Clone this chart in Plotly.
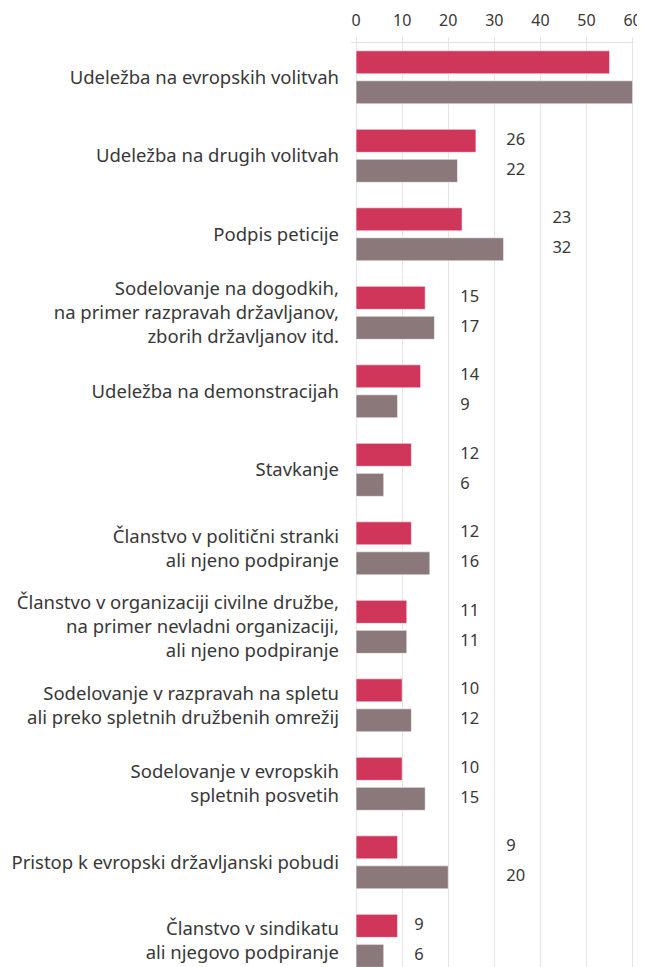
import plotly.graph_objects as go

categories = [
    "Udeležba na evropskih volitvah",
    "Udeležba na drugih volitvah",
    "Podpis peticije",
    "Sodelovanje na dogodkih,<br>na primer razpravah državljanov,<br>zborih državljanov itd.",
    "Udeležba na demonstracijah",
    "Stavkanje",
    "Članstvo v politični stranki<br>ali njeno podpiranje",
    "Članstvo v organizaciji civilne družbe,<br>na primer nevladni organizaciji,<br>ali njeno podpiranje",
    "Sodelovanje v razpravah na spletu<br>ali preko spletnih družbenih omrežij",
    "Sodelovanje v evropskih<br>spletnih posvetih",
    "Pristop k evropski državljanski pobudi",
    "Članstvo v sindikatu<br>ali njegovo podpiranje",
]
series_a = [55, 26, 23, 15, 14, 12, 12, 11, 10, 10, 9, 9]
series_b = [60, 22, 32, 17, 9, 6, 16, 11, 12, 15, 20, 6]
x_ticks = [0, 10, 20, 30, 40, 50, 60]

RED = "#CF365A"
GREY = "#8A787B"
TEXT = "#383838"
FONT = "Noto Sans"

BARGAP = 0.236
GROUPGAP = 0.233
slot = (1 - BARGAP) / 2

pos = list(range(len(categories)))

fig = go.Figure()
fig.add_trace(go.Bar(
    y=pos, x=series_a, orientation="h", marker_color=RED,
    marker_line=dict(color="rgba(255,255,255,0.55)", width=1),
    showlegend=False, hoverinfo="x",
))
fig.add_trace(go.Bar(
    y=pos, x=series_b, orientation="h", marker_color=GREY,
    marker_line=dict(color="rgba(255,255,255,0.55)", width=1),
    showlegend=False, hoverinfo="x",
))

# value labels, placed just past the next gridline beyond the longer bar of each group
label_x = [(max(a, b) // 10 + 1) * 10 + 2.6 for a, b in zip(series_a, series_b)]
fig.add_trace(go.Scatter(
    x=label_x, y=[p - slot / 2 for p in pos], mode="text",
    text=[str(v) for v in series_a], textposition="middle right",
    textfont=dict(family=FONT, size=16.5, color=TEXT),
    cliponaxis=True, showlegend=False, hoverinfo="skip",
))
fig.add_trace(go.Scatter(
    x=label_x, y=[p + slot / 2 for p in pos], mode="text",
    text=[str(v) for v in series_b], textposition="middle right",
    textfont=dict(family=FONT, size=16.5, color=TEXT),
    cliponaxis=True, showlegend=False, hoverinfo="skip",
))

fig.update_layout(
    width=637, height=959,
    margin=dict(l=343, r=11, t=35, b=0),
    barmode="group", bargap=BARGAP, bargroupgap=GROUPGAP,
    plot_bgcolor="white", paper_bgcolor="white",
    font=dict(family=FONT, color=TEXT, size=18.5),
    xaxis=dict(
        side="top", range=[-1.1, 60.3], tickvals=x_ticks,
        showgrid=True, gridcolor="#E6E6E6", gridwidth=1,
        ticks="outside", ticklen=5, tickcolor="#E6E6E6",
        showline=True, linecolor="#E2E2E2", linewidth=1, mirror=False,
        zeroline=False, ticklabelstandoff=5,
        tickfont=dict(size=16, color=TEXT, family=FONT),
    ),
    yaxis=dict(
        range=[11.333, -0.437], tickvals=pos, ticktext=categories,
        showgrid=False, zeroline=False, showline=False, ticks="",
        ticklabelstandoff=11,
        tickfont=dict(size=18.5, color=TEXT, family=FONT),
    ),
)

fig.write_html("out.html")
